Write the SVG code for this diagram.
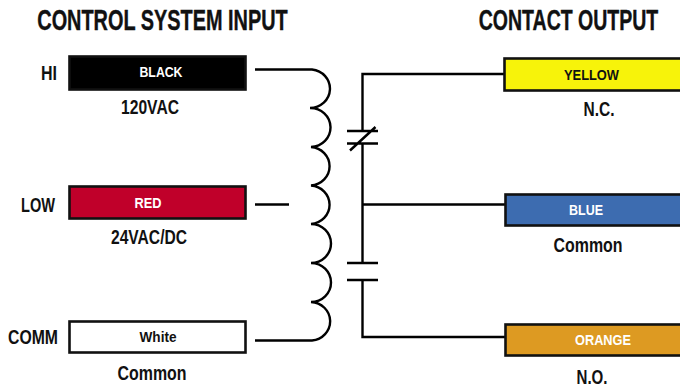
<svg xmlns="http://www.w3.org/2000/svg" width="680" height="388" viewBox="0 0 680 388">
<style>
text{font-family:"Liberation Sans",Arial,sans-serif;font-weight:700;text-anchor:middle}
.h{font-size:29px;fill:#111;stroke:#111;stroke-width:.4}
.l{font-size:20px;fill:#111}
.b{font-size:15px;fill:#fff}
.d{font-size:15px;fill:#111}
.box{stroke:#111;stroke-width:2.6}
.w{fill:none;stroke:#000;stroke-width:2.4;stroke-linejoin:miter}
</style>
<rect width="680" height="388" fill="#fff"/>
<g id="titles">
<text class="h" transform="translate(162.500 30) scale(.686 1)">CONTROL SYSTEM INPUT</text>
<text class="h" transform="translate(568.500 30) scale(.673 1)">CONTACT OUTPUT</text>
</g>
<g id="connectors">
<path class="w" d="M255 69.500H312A20 19.300 0 0 1 310 108A20 19.500 0 0 1 311 147A20 19.300 0 0 1 311 185.500A20 19.300 0 0 1 311 224A20 19.500 0 0 1 311 263A20 19.500 0 0 1 311 302A20 19.300 0 0 1 312 340.500H255"/>
<path class="w" d="M255 204.500H289"/>
<path class="w" d="M504 74H362.500V131M362.500 143V263M362.500 280V337H505M362.500 204.500H505"/>
<path class="w" d="M347 131H378M347 143.500H378M350 150.500L375.500 127M347 263H378M347 280H378"/>
</g>
<g id="hi">
<rect class="box" x="69.500" y="56.500" width="176" height="33" fill="#000"/>
<text class="b" x="161" y="77" textLength="43" lengthAdjust="spacingAndGlyphs">BLACK</text>
<text class="l" x="49" y="80" textLength="16" lengthAdjust="spacingAndGlyphs">HI</text>
<text class="l" x="150" y="114" textLength="58" lengthAdjust="spacingAndGlyphs">120VAC</text>
</g>
<g id="low">
<rect class="box" x="69.500" y="186.500" width="176" height="32" fill="#c0002a"/>
<text class="b" x="148" y="208" textLength="27" lengthAdjust="spacingAndGlyphs">RED</text>
<text class="l" x="38" y="212" textLength="34" lengthAdjust="spacingAndGlyphs">LOW</text>
<text class="l" x="149" y="244" textLength="76" lengthAdjust="spacingAndGlyphs">24VAC/DC</text>
</g>
<g id="comm">
<rect class="box" x="69.500" y="321.500" width="176" height="31" fill="#fff"/>
<text class="d" x="158" y="342" textLength="37" lengthAdjust="spacingAndGlyphs">White</text>
<text class="l" x="33" y="344" textLength="50" lengthAdjust="spacingAndGlyphs">COMM</text>
<text class="l" x="152" y="380" textLength="69" lengthAdjust="spacingAndGlyphs">Common</text>
</g>
<g id="yellow">
<rect class="box" x="504.500" y="58.500" width="180" height="32" fill="#f7f30a"/>
<text class="d" x="591.500" y="80" textLength="55" lengthAdjust="spacingAndGlyphs">YELLOW</text>
<text class="l" x="599" y="116" textLength="31" lengthAdjust="spacingAndGlyphs">N.C.</text>
</g>
<g id="blue">
<rect class="box" x="505.500" y="194.500" width="180" height="31" fill="#3d6cb0"/>
<text class="b" x="586" y="215" textLength="34" lengthAdjust="spacingAndGlyphs">BLUE</text>
<text class="l" x="588" y="252" textLength="69" lengthAdjust="spacingAndGlyphs">Common</text>
</g>
<g id="orange">
<rect class="box" x="505.500" y="324.500" width="180" height="31" fill="#dd9a22"/>
<text class="b" x="603" y="345" textLength="56" lengthAdjust="spacingAndGlyphs">ORANGE</text>
<text class="l" x="592" y="384" textLength="31" lengthAdjust="spacingAndGlyphs">N.O.</text>
</g>
</svg>
